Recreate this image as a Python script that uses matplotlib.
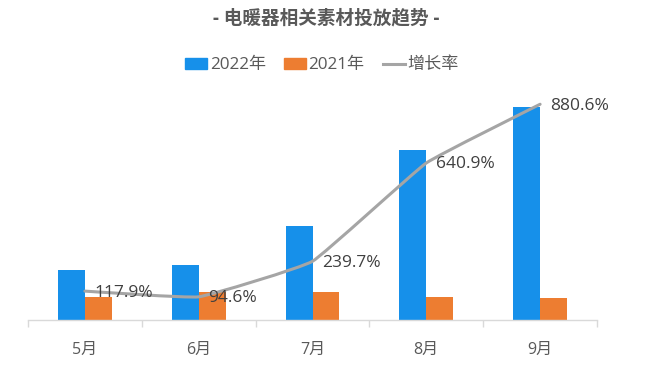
import matplotlib
matplotlib.use('Agg')
import matplotlib.pyplot as plt
from matplotlib.path import Path
from matplotlib.patches import PathPatch, Patch
from matplotlib.lines import Line2D
import numpy as np

plt.rcParams['font.family'] = ['Open Sans', 'Noto Sans CJK SC', 'DejaVu Sans']

months = ['5月', '6月', '7月', '8月', '9月']
v2022 = [50, 55, 94, 170, 213]
v2021 = [23, 28, 28, 23, 22]
growth = [117.9, 94.6, 239.7, 640.9, 880.6]
growth_labels = ['117.9%', '94.6%', '239.7%', '640.9%', '880.6%']

blue = '#1690EA'
orange = '#ED7D31'
gray = '#A5A5A5'
txt = '#595959'

fig = plt.figure(figsize=(6.65, 3.67), dpi=100)
ax = fig.add_axes([28 / 665, 47 / 367, 569 / 665, 245 / 367])
x = np.arange(len(months))
w = 0.237
ax.bar(x - w / 2, v2022, w, color=blue, zorder=2)
ax.bar(x + w / 2, v2021, w, color=orange, zorder=2)
ax.set_xlim(-0.5, len(months) - 0.5)
ax.set_ylim(0, 245)
ax.set_yticks([])
for s in ['top', 'right', 'left']:
    ax.spines[s].set_visible(False)
ax.spines['bottom'].set_color('#D9D9D9')
ax.spines['bottom'].set_linewidth(1)
ax.set_xticks(x)
ax.set_xticklabels(months, fontsize=11.5, color=txt)
ax.tick_params(axis='x', length=0, pad=16)
ax.set_xticks(np.arange(len(months) + 1) - 0.5, minor=True)
ax.tick_params(axis='x', which='minor', length=5, color='#D9D9D9', width=1)

ax2 = ax.twinx()
ax2.set_ylim(0, 1000)
ax2.set_yticks([])
for s in ax2.spines.values():
    s.set_visible(False)

# lightly smoothed line through the data points
pts = np.column_stack([x, growth]).astype(float)
ext = np.vstack([pts[0], pts, pts[-1]])
verts = [tuple(pts[0])]
codes = [Path.MOVETO]
k = 20
for i in range(len(pts) - 1):
    p0, p1, p2, p3 = ext[i], ext[i + 1], ext[i + 2], ext[i + 3]
    c1 = p1 + (p2 - p0) / k
    c2 = p2 - (p3 - p1) / k
    verts += [tuple(c1), tuple(c2), tuple(p2)]
    codes += [Path.CURVE4] * 3
ax2.add_patch(PathPatch(Path(verts, codes), facecolor='none', edgecolor=gray,
                        lw=2.2, zorder=3, capstyle='round', joinstyle='round'))
for xi, g, lab in zip(x, growth, growth_labels):
    ax2.annotate(lab, (xi, g), xytext=(7, -1), textcoords='offset points',
                 ha='left', va='center', fontsize=12.5, color='#404040', zorder=4)

fig.text(0.49, 0.95, '- 电暖器相关素材投放趋势 -', ha='center', va='center',
         fontsize=13.4, fontweight='bold', color=txt)

handles = [Patch(color=blue), Patch(color=orange), Line2D([], [], color=gray, lw=2.2)]
fig.legend(handles, ['2022年', '2021年', '增长率'], loc='center', ncol=3,
           bbox_to_anchor=(0.484, 0.822), frameon=False, fontsize=12.3,
           labelcolor=txt, handlelength=1.3, handleheight=0.6,
           handletextpad=0.15, columnspacing=1.05)

fig.savefig('out.png', dpi=100)
